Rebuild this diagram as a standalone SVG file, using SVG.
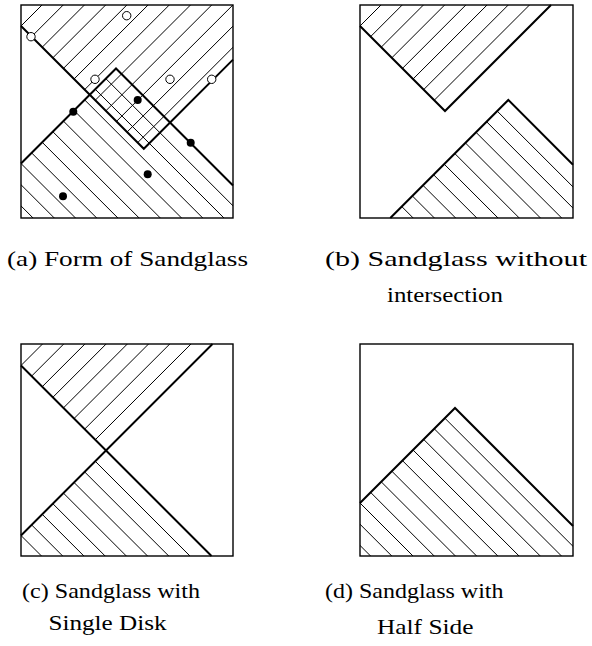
<svg xmlns="http://www.w3.org/2000/svg" width="592" height="646" viewBox="0 0 592 646">
<style>
.frame{fill:none;stroke:#000;stroke-width:1.4}
.hatch{fill:none;stroke:#000;stroke-width:1}
.edge{fill:none;stroke:#000;stroke-width:2;stroke-linejoin:miter}
.open{fill:#fff;stroke:#000;stroke-width:1}
.dot{fill:#000}
.cap{font-family:"Liberation Serif","Times New Roman",serif;font-size:21.5px;fill:#000}
</style>
<defs>
<clipPath id="caU"><polygon points="21,5 21,26 143.8,148.8 233,59.6 233,5"/></clipPath>
<clipPath id="caL"><polygon points="21,163.5 116,68.5 233,185.5 233,218 21,218"/></clipPath>
<clipPath id="cbU"><polygon points="360,5 360,26 445,111 551,5"/></clipPath>
<clipPath id="cbL"><polygon points="390.3,218 508.3,100 573,164.7 573,218"/></clipPath>
<clipPath id="ccU"><polygon points="21,344 21,365.5 106,450.5 212.5,344"/></clipPath>
<clipPath id="ccL"><polygon points="21,535.5 106,450.5 211.5,556 21,556"/></clipPath>
<clipPath id="cdL"><polygon points="360,503 455,408 573,526 573,556 360,556"/></clipPath>
</defs>

<g id="panel-a">
<rect class="frame" x="21" y="5" width="212" height="213"/>
<path class="hatch" clip-path="url(#caU)" d="M47,0 l-223,223 M68.21,0 l-223,223 M89.42,0 l-223,223 M110.63,0 l-223,223 M131.84,0 l-223,223 M153.05,0 l-223,223 M174.26,0 l-223,223 M195.47,0 l-223,223 M216.68,0 l-223,223 M237.89,0 l-223,223 M259.1,0 l-223,223 M280.31,0 l-223,223"/>
<path class="hatch" clip-path="url(#caL)" d="M0,-27.18 l240,240 M0,-5.97 l240,240 M0,15.24 l240,240 M0,36.45 l240,240 M0,57.66 l240,240 M0,78.87 l240,240 M0,100.08 l240,240 M0,121.29 l240,240 M0,142.5 l240,240 M0,163.71 l240,240 M0,184.92 l240,240"/>
<path class="edge" d="M21,26 L143.8,148.8 L233,59.6"/>
<path class="edge" d="M21,163.5 L116,68.5 L233,185.5"/>
<circle class="open" cx="31" cy="36.7" r="4.2"/>
<circle class="open" cx="126.7" cy="15.7" r="4.2"/>
<circle class="open" cx="95" cy="79.3" r="4.2"/>
<circle class="open" cx="170" cy="79.3" r="4.2"/>
<circle class="open" cx="211.7" cy="79.3" r="4.2"/>
<circle class="dot" cx="73.3" cy="111.7" r="4"/>
<circle class="dot" cx="137.7" cy="100" r="4"/>
<circle class="dot" cx="190.7" cy="142.7" r="4"/>
<circle class="dot" cx="147.7" cy="174.3" r="4"/>
<circle class="dot" cx="63" cy="196.3" r="4"/>
<text class="cap" x="7" y="266" textLength="241" lengthAdjust="spacingAndGlyphs">(a) Form of Sandglass</text>
</g>

<g id="panel-b">
<rect class="frame" x="360" y="5" width="213" height="213"/>
<path class="hatch" clip-path="url(#cbU)" d="M386,0 l-223,223 M407.21,0 l-223,223 M428.42,0 l-223,223 M449.63,0 l-223,223 M470.84,0 l-223,223 M492.05,0 l-223,223 M513.26,0 l-223,223 M534.47,0 l-223,223"/>
<path class="hatch" clip-path="url(#cbL)" d="M350,176 l240,240 M350,154.79 l240,240 M350,133.58 l240,240 M350,112.37 l240,240 M350,91.16 l240,240 M350,69.95 l240,240 M350,48.74 l240,240 M350,27.53 l240,240 M350,6.32 l240,240 M350,-14.89 l240,240 M350,-36.1 l240,240"/>
<path class="edge" d="M360,26 L445,111 L551,5"/>
<path class="edge" d="M390.3,218 L508.3,100 L573,164.7"/>
<text class="cap" x="325" y="266" textLength="262" lengthAdjust="spacingAndGlyphs">(b) Sandglass without</text>
<text class="cap" x="387" y="302" textLength="116" lengthAdjust="spacingAndGlyphs">intersection</text>
</g>

<g id="panel-c">
<rect class="frame" x="21" y="344" width="212" height="212"/>
<path class="hatch" clip-path="url(#ccU)" d="M46.5,340 l-223,223 M67.71,340 l-223,223 M88.92,340 l-223,223 M110.13,340 l-223,223 M131.34,340 l-223,223 M152.55,340 l-223,223 M173.76,340 l-223,223 M194.97,340 l-223,223"/>
<path class="hatch" clip-path="url(#ccL)" d="M0,366.03 l240,240 M0,387.24 l240,240 M0,408.45 l240,240 M0,429.66 l240,240 M0,450.87 l240,240 M0,472.08 l240,240 M0,493.29 l240,240 M0,514.5 l240,240"/>
<path class="edge" d="M21,365.5 L211.5,556"/>
<path class="edge" d="M21,535.5 L212.5,344"/>
<text class="cap" x="22" y="598" textLength="178" lengthAdjust="spacingAndGlyphs">(c) Sandglass with</text>
<text class="cap" x="48.5" y="630" textLength="118" lengthAdjust="spacingAndGlyphs">Single Disk</text>
</g>

<g id="panel-d">
<rect class="frame" x="360" y="344" width="213" height="212"/>
<path class="hatch" clip-path="url(#cdL)" d="M340,313.32 l240,240 M340,334.53 l240,240 M340,355.74 l240,240 M340,376.95 l240,240 M340,398.16 l240,240 M340,419.37 l240,240 M340,440.58 l240,240 M340,461.79 l240,240 M340,483 l240,240 M340,504.21 l240,240 M340,525.42 l240,240"/>
<path class="edge" d="M360,503 L455,408 L573,526"/>
<text class="cap" x="325" y="598" textLength="178.5" lengthAdjust="spacingAndGlyphs">(d) Sandglass with</text>
<text class="cap" x="377" y="634" textLength="96.5" lengthAdjust="spacingAndGlyphs">Half Side</text>
</g>
</svg>
